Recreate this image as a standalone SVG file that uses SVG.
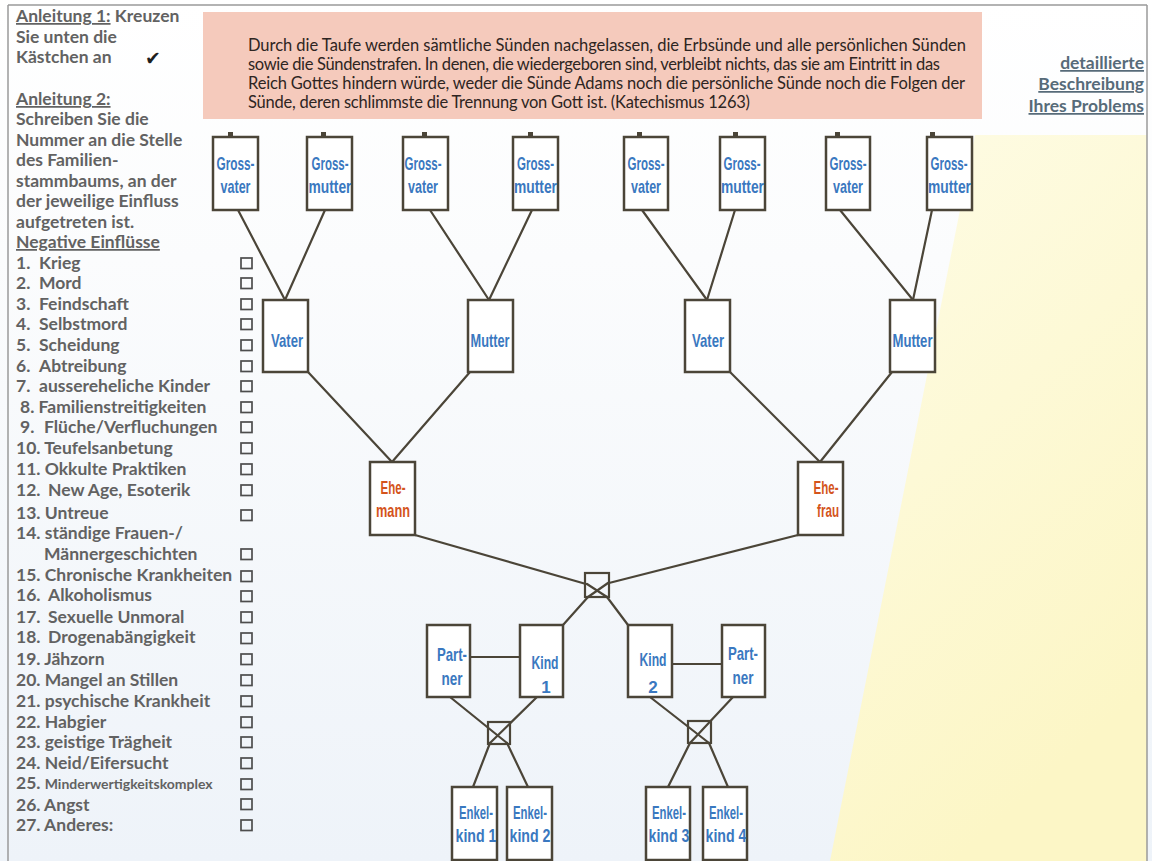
<svg xmlns="http://www.w3.org/2000/svg" width="1152" height="861" viewBox="0 0 1152 861">
  <defs>
    <linearGradient id="paper" x1="0" y1="0" x2="0" y2="1">
      <stop offset="0" stop-color="#ffffff"/>
      <stop offset="0.3" stop-color="#fbfcfd"/>
      <stop offset="1" stop-color="#eef3f9"/>
    </linearGradient>
    <linearGradient id="yellow" x1="0" y1="0" x2="0.4" y2="1">
      <stop offset="0" stop-color="#fefce6"/>
      <stop offset="1" stop-color="#fcf6c6"/>
    </linearGradient>
    <style>
      .box{fill:#fff;stroke:#4b4538;stroke-width:2.5}
      .tab{fill:#4b4538}
      .lbl{font-family:"Liberation Sans Narrow","Liberation Sans",Arial,sans-serif;font-weight:bold;font-size:19px;fill:#3a78c0;text-anchor:middle}
      .num{font-size:17px}
      .ehe{fill:#d4541c}
      #connectors line{stroke:#4b4538;stroke-width:2.2;stroke-linecap:round}
      #connectors rect{fill:none;stroke:#4b4538;stroke-width:2.2}
      .side{font-family:Lato,"Open Sans",sans-serif;font-weight:bold;font-size:17.5px;fill:#626262}
      .small{font-size:14px}
      .cb{fill:none;stroke:#4d4d4d;stroke-width:1.7}
      .quote{font-family:Lato,"Open Sans",sans-serif;font-size:16.5px;fill:#2e2522}
      .help{font-family:Lato,"Open Sans",sans-serif;font-weight:bold;font-size:17.5px;fill:#576b79;text-anchor:end;text-decoration:underline}
      .ul{text-decoration:underline}
    </style>
  </defs>

  <!-- paper -->
  <rect x="0" y="0" width="1152" height="861" fill="url(#paper)"/>
  <polygon points="975,135 1147,135 1147,861 830,861" fill="url(#yellow)"/>
  <g fill="none" stroke="#9a9a9a" stroke-width="1.5">
    <line x1="8" y1="5" x2="1147" y2="5"/>
    <line x1="8" y1="5" x2="8" y2="861"/>
    <line x1="1147" y1="5" x2="1147" y2="861"/>
  </g>

  <!-- quotation banner -->
  <g id="quote">
    <rect x="203" y="12" width="779" height="107" fill="#f5cabc"/>
    <text class="quote" x="248" y="51" textLength="718">Durch die Taufe werden sämtliche Sünden nachgelassen, die Erbsünde und alle persönlichen Sünden</text>
    <text class="quote" x="248" y="70" textLength="692">sowie die Sündenstrafen. In denen, die wiedergeboren sind, verbleibt nichts, das sie am Eintritt in das</text>
    <text class="quote" x="248" y="89" textLength="717">Reich Gottes hindern würde, weder die Sünde Adams noch die persönliche Sünde noch die Folgen der</text>
    <text class="quote" x="248" y="108" textLength="502">Sünde, deren schlimmste die Trennung von Gott ist. (Katechismus 1263)</text>
  </g>

  <!-- link text, top right -->
  <g id="help">
    <text class="help" x="1144" y="69">detaillierte</text>
    <text class="help" x="1144" y="90">Beschreibung</text>
    <text class="help" x="1144" y="112">Ihres Problems</text>
  </g>

  <!-- instructions and list of influences -->
  <g id="instructions" class="side">
    <text x="16" y="22"><tspan class="ul">Anleitung 1:</tspan> Kreuzen</text>
    <text x="16" y="43">Sie unten die</text>
    <text x="16" y="63">Kästchen an</text>
    <text x="145" y="65" font-family="DejaVu Sans,sans-serif" font-size="19" fill="#1e1e1e">✔</text>
    <text x="16" y="105" class="ul">Anleitung 2:</text>
    <text x="16" y="125">Schreiben Sie die</text>
    <text x="16" y="146">Nummer an die Stelle</text>
    <text x="16" y="166">des Familien-</text>
    <text x="16" y="187">stammbaums, an der</text>
    <text x="16" y="207">der jeweilige Einfluss</text>
    <text x="16" y="228">aufgetreten ist.</text>
    <text x="16" y="248" class="ul">Negative Einflüsse</text>
  </g>

  <g id="influences" class="side">
    <text x="16" y="269">1.<tspan x="39">Krieg</tspan></text>
    <text x="16" y="289">2.<tspan x="39">Mord</tspan></text>
    <text x="16" y="310">3.<tspan x="39">Feindschaft</tspan></text>
    <text x="16" y="330">4.<tspan x="39">Selbstmord</tspan></text>
    <text x="16" y="351">5.<tspan x="39">Scheidung</tspan></text>
    <text x="16" y="372">6.<tspan x="39">Abtreibung</tspan></text>
    <text x="16" y="392">7.<tspan x="39">aussereheliche Kinder</tspan></text>
    <text x="20" y="413">8. Familienstreitigkeiten</text>
    <text x="20" y="433">9.<tspan x="44">Flüche/Verfluchungen</tspan></text>
    <text x="16" y="454">10. Teufelsanbetung</text>
    <text x="16" y="475">11. Okkulte Praktiken</text>
    <text x="16" y="496">12.<tspan x="48">New Age, Esoterik</tspan></text>
    <text x="16" y="519">13. Untreue</text>
    <text x="16" y="539">14. ständige Frauen-/</text>
    <text x="44" y="560">Männergeschichten</text>
    <text x="16" y="581">15. Chronische Krankheiten</text>
    <text x="16" y="601">16.<tspan x="48">Alkoholismus</tspan></text>
    <text x="16" y="623">17.<tspan x="48">Sexuelle Unmoral</tspan></text>
    <text x="16" y="643">18.<tspan x="48">Drogenabängigkeit</tspan></text>
    <text x="16" y="665">19. Jähzorn</text>
    <text x="16" y="686">20. Mangel an Stillen</text>
    <text x="16" y="707">21. psychische Krankheit</text>
    <text x="16" y="728">22. Habgier</text>
    <text x="16" y="748">23. geistige Trägheit</text>
    <text x="16" y="769">24. Neid/Eifersucht</text>
    <text x="16" y="789">25. <tspan class="small">Minderwertigkeitskomplex</tspan></text>
    <text x="16" y="811">26. Angst</text>
    <text x="16" y="831">27. Anderes:</text>
  </g>

  <g id="checkboxes">
    <rect class="cb" x="241" y="258" width="11" height="10.5"/>
    <rect class="cb" x="241" y="278" width="11" height="10.5"/>
    <rect class="cb" x="241" y="299" width="11" height="10.5"/>
    <rect class="cb" x="241" y="319" width="11" height="10.5"/>
    <rect class="cb" x="241" y="340" width="11" height="10.5"/>
    <rect class="cb" x="241" y="361" width="11" height="10.5"/>
    <rect class="cb" x="241" y="381" width="11" height="10.5"/>
    <rect class="cb" x="241" y="402" width="11" height="10.5"/>
    <rect class="cb" x="241" y="422" width="11" height="10.5"/>
    <rect class="cb" x="241" y="443" width="11" height="10.5"/>
    <rect class="cb" x="241" y="464" width="11" height="10.5"/>
    <rect class="cb" x="241" y="485" width="11" height="10.5"/>
    <rect class="cb" x="241" y="510" width="11" height="10.5"/>
    <rect class="cb" x="241" y="549" width="11" height="10.5"/>
    <rect class="cb" x="241" y="571" width="11" height="10.5"/>
    <rect class="cb" x="241" y="591" width="11" height="10.5"/>
    <rect class="cb" x="241" y="612" width="11" height="10.5"/>
    <rect class="cb" x="241" y="633" width="11" height="10.5"/>
    <rect class="cb" x="241" y="654" width="11" height="10.5"/>
    <rect class="cb" x="241" y="675" width="11" height="10.5"/>
    <rect class="cb" x="241" y="696" width="11" height="10.5"/>
    <rect class="cb" x="241" y="717" width="11" height="10.5"/>
    <rect class="cb" x="241" y="737" width="11" height="10.5"/>
    <rect class="cb" x="241" y="758" width="11" height="10.5"/>
    <rect class="cb" x="241" y="779" width="11" height="10.5"/>
    <rect class="cb" x="241" y="799" width="11" height="10.5"/>
    <rect class="cb" x="241" y="820" width="11" height="10.5"/>
  </g>

  <!-- family tree connectors -->
  <g id="connectors">
    <line x1="238" y1="210" x2="285" y2="300"/>
    <line x1="325" y1="210" x2="285" y2="300"/>
    <line x1="430" y1="210" x2="489" y2="300"/>
    <line x1="532" y1="210" x2="489" y2="300"/>
    <line x1="642" y1="210" x2="707" y2="300"/>
    <line x1="735" y1="210" x2="707" y2="300"/>
    <line x1="840" y1="210" x2="913" y2="300"/>
    <line x1="932" y1="210" x2="913" y2="300"/>
    <line x1="308" y1="372" x2="392" y2="462"/>
    <line x1="470" y1="372" x2="392" y2="462"/>
    <line x1="730" y1="372" x2="820" y2="462"/>
    <line x1="892" y1="372" x2="820" y2="462"/>
    <!-- couple junction -->
    <line x1="415" y1="535" x2="586" y2="584"/>
    <line x1="798" y1="535" x2="609" y2="583"/>
    <rect x="585" y="573" width="24" height="24"/>
    <line x1="587" y1="584" x2="607" y2="597"/>
    <line x1="608" y1="583" x2="588" y2="597"/>
    <line x1="588" y1="597" x2="563" y2="625"/>
    <line x1="607" y1="597" x2="628" y2="625"/>
    <!-- partners -->
    <line x1="470" y1="657" x2="520" y2="657"/>
    <line x1="672" y1="664" x2="722" y2="664"/>
    <!-- left grandchildren junction -->
    <line x1="450" y1="697" x2="507" y2="743"/>
    <line x1="537" y1="697" x2="490" y2="743"/>
    <rect x="488" y="722" width="22" height="22"/>
    <line x1="490" y1="743" x2="473" y2="787"/>
    <line x1="507" y1="743" x2="528" y2="787"/>
    <!-- right grandchildren junction -->
    <line x1="650" y1="697" x2="709" y2="743"/>
    <line x1="733" y1="697" x2="690" y2="743"/>
    <rect x="688" y="721" width="23" height="22"/>
    <line x1="690" y1="743" x2="668" y2="787"/>
    <line x1="709" y1="743" x2="728" y2="787"/>
  </g>

  <!-- grandparents -->
  <g id="gv1"><rect class="tab" x="228" y="132" width="5" height="5"/><rect class="box" x="213" y="137" width="45" height="73"/><text class="lbl" x="235.5" y="170" textLength="38" lengthAdjust="spacingAndGlyphs">Gross-</text><text class="lbl" x="235.5" y="193" textLength="30" lengthAdjust="spacingAndGlyphs">vater</text></g>
  <g id="gm1"><rect class="tab" x="321" y="132" width="5" height="5"/><rect class="box" x="307" y="137" width="45" height="73"/><text class="lbl" x="330" y="170" textLength="37" lengthAdjust="spacingAndGlyphs">Gross-</text><text class="lbl" x="330" y="193" textLength="43" lengthAdjust="spacingAndGlyphs">mutter</text></g>
  <g id="gv2"><rect class="tab" x="422" y="132" width="5" height="5"/><rect class="box" x="403" y="137" width="45" height="73"/><text class="lbl" x="423" y="170" textLength="37" lengthAdjust="spacingAndGlyphs">Gross-</text><text class="lbl" x="423" y="193" textLength="30" lengthAdjust="spacingAndGlyphs">vater</text></g>
  <g id="gm2"><rect class="tab" x="528" y="132" width="5" height="5"/><rect class="box" x="513" y="137" width="45" height="73"/><text class="lbl" x="535.5" y="170" textLength="37" lengthAdjust="spacingAndGlyphs">Gross-</text><text class="lbl" x="535.5" y="193" textLength="43" lengthAdjust="spacingAndGlyphs">mutter</text></g>
  <g id="gv3"><rect class="tab" x="637" y="132" width="5" height="5"/><rect class="box" x="624" y="137" width="44" height="73"/><text class="lbl" x="646" y="170" textLength="37" lengthAdjust="spacingAndGlyphs">Gross-</text><text class="lbl" x="646" y="193" textLength="30" lengthAdjust="spacingAndGlyphs">vater</text></g>
  <g id="gm3"><rect class="tab" x="733" y="132" width="5" height="5"/><rect class="box" x="720" y="137" width="45" height="73"/><text class="lbl" x="742" y="170" textLength="37" lengthAdjust="spacingAndGlyphs">Gross-</text><text class="lbl" x="742.5" y="193" textLength="43" lengthAdjust="spacingAndGlyphs">mutter</text></g>
  <g id="gv4"><rect class="tab" x="835" y="132" width="5" height="5"/><rect class="box" x="826" y="137" width="44" height="73"/><text class="lbl" x="848" y="170" textLength="37" lengthAdjust="spacingAndGlyphs">Gross-</text><text class="lbl" x="848" y="193" textLength="30" lengthAdjust="spacingAndGlyphs">vater</text></g>
  <g id="gm4"><rect class="tab" x="930" y="132" width="5" height="5"/><rect class="box" x="927" y="137" width="45" height="73"/><text class="lbl" x="949" y="170" textLength="37" lengthAdjust="spacingAndGlyphs">Gross-</text><text class="lbl" x="949.5" y="193" textLength="43" lengthAdjust="spacingAndGlyphs">mutter</text></g>

  <!-- parents -->
  <g id="vater1"><rect class="box" x="263" y="300" width="45" height="72"/><text class="lbl" x="287" y="347" textLength="32" lengthAdjust="spacingAndGlyphs">Vater</text></g>
  <g id="mutter1"><rect class="box" x="468" y="300" width="45" height="72"/><text class="lbl" x="490" y="347" textLength="39" lengthAdjust="spacingAndGlyphs">Mutter</text></g>
  <g id="vater2"><rect class="box" x="685" y="300" width="45" height="72"/><text class="lbl" x="708" y="347" textLength="32" lengthAdjust="spacingAndGlyphs">Vater</text></g>
  <g id="mutter2"><rect class="box" x="890" y="300" width="45" height="72"/><text class="lbl" x="912.5" y="347" textLength="40" lengthAdjust="spacingAndGlyphs">Mutter</text></g>

  <!-- couple -->
  <g id="ehemann"><rect class="box" x="370" y="462" width="45" height="73"/><text class="lbl ehe" x="393" y="494" textLength="25" lengthAdjust="spacingAndGlyphs">Ehe-</text><text class="lbl ehe" x="393" y="517" textLength="34" lengthAdjust="spacingAndGlyphs">mann</text></g>
  <g id="ehefrau"><rect class="box" x="798" y="462" width="45" height="73"/><text class="lbl ehe" x="826" y="494" textLength="25" lengthAdjust="spacingAndGlyphs">Ehe-</text><text class="lbl ehe" x="828" y="517" textLength="22" lengthAdjust="spacingAndGlyphs">frau</text></g>

  <!-- children and partners -->
  <g id="partner1"><rect class="box" x="427" y="625" width="43" height="72"/><text class="lbl" x="452" y="661" textLength="30" lengthAdjust="spacingAndGlyphs">Part-</text><text class="lbl" x="452" y="685" textLength="21" lengthAdjust="spacingAndGlyphs">ner</text></g>
  <g id="kind1"><rect class="box" x="520" y="625" width="43" height="72"/><text class="lbl" x="545" y="669" textLength="27" lengthAdjust="spacingAndGlyphs">Kind</text><text class="lbl num" x="546" y="693">1</text></g>
  <g id="kind2"><rect class="box" x="628" y="625" width="44" height="72"/><text class="lbl" x="653" y="666" textLength="27" lengthAdjust="spacingAndGlyphs">Kind</text><text class="lbl num" x="653" y="693">2</text></g>
  <g id="partner2"><rect class="box" x="722" y="625" width="43" height="72"/><text class="lbl" x="743" y="660" textLength="30" lengthAdjust="spacingAndGlyphs">Part-</text><text class="lbl" x="743" y="684" textLength="21" lengthAdjust="spacingAndGlyphs">ner</text></g>

  <!-- grandchildren -->
  <g id="enkel1"><rect class="box" x="452" y="787" width="45" height="73"/><text class="lbl" x="476" y="819" textLength="34" lengthAdjust="spacingAndGlyphs">Enkel-</text><text class="lbl" x="476" y="842" textLength="41" lengthAdjust="spacingAndGlyphs">kind 1</text></g>
  <g id="enkel2"><rect class="box" x="507" y="787" width="45" height="73"/><text class="lbl" x="530" y="819" textLength="34" lengthAdjust="spacingAndGlyphs">Enkel-</text><text class="lbl" x="530" y="842" textLength="41" lengthAdjust="spacingAndGlyphs">kind 2</text></g>
  <g id="enkel3"><rect class="box" x="646" y="787" width="44" height="73"/><text class="lbl" x="669" y="819" textLength="34" lengthAdjust="spacingAndGlyphs">Enkel-</text><text class="lbl" x="669" y="842" textLength="41" lengthAdjust="spacingAndGlyphs">kind 3</text></g>
  <g id="enkel4"><rect class="box" x="703" y="787" width="44" height="73"/><text class="lbl" x="726" y="819" textLength="34" lengthAdjust="spacingAndGlyphs">Enkel-</text><text class="lbl" x="726" y="842" textLength="41" lengthAdjust="spacingAndGlyphs">kind 4</text></g>
</svg>
